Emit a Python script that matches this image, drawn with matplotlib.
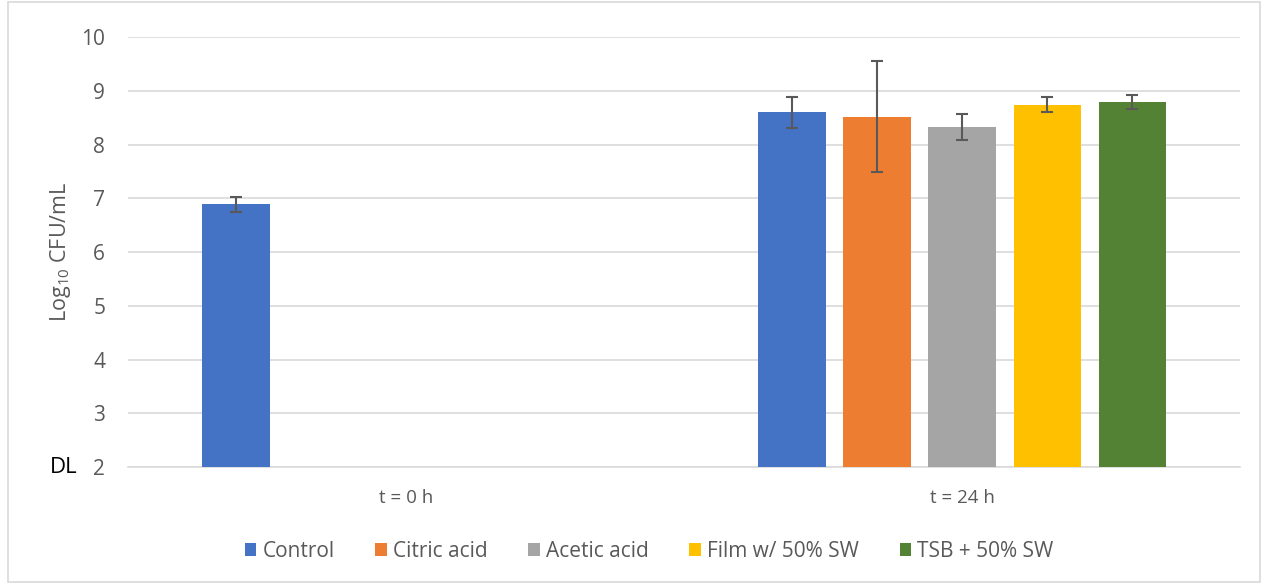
import numpy as np
import matplotlib
matplotlib.use("Agg")
import matplotlib.pyplot as plt
from matplotlib.patches import Rectangle

plt.rcParams['font.family'] = ['Open Sans', 'DejaVu Sans']
plt.rcParams['mathtext.fontset'] = 'custom'
plt.rcParams['mathtext.rm'] = 'Open Sans'
plt.rcParams['mathtext.it'] = 'Open Sans'

# Sampling times and treatments
categories = ["t = 0 h", "t = 24 h"]
series = ["Control", "Citric acid", "Acetic acid", "Film w/ 50% SW", "TSB + 50% SW"]
colors = ["#4472C4", "#ED7D31", "#A5A5A5", "#FFC000", "#548235"]

# Mean log10 CFU/mL and standard deviations (NaN = not measured)
means = {
    "Control":        [6.89, 8.60],
    "Citric acid":    [np.nan, 8.52],
    "Acetic acid":    [np.nan, 8.33],
    "Film w/ 50% SW": [np.nan, 8.74],
    "TSB + 50% SW":   [np.nan, 8.80],
}
errors = {
    "Control":        [0.14, 0.29],
    "Citric acid":    [np.nan, 1.03],
    "Acetic acid":    [np.nan, 0.24],
    "Film w/ 50% SW": [np.nan, 0.14],
    "TSB + 50% SW":   [np.nan, 0.13],
}
y_ticks = [2, 3, 4, 5, 6, 7, 8, 9, 10]
baseline = 2

fig = plt.figure(figsize=(12.68, 5.84), dpi=100)
ax = fig.add_axes([0.101, 0.2003, 0.877, 0.7363])

x = np.arange(len(categories))
spacing = 0.153
width = 0.121
offsets = (np.arange(len(series)) - (len(series) - 1) / 2) * spacing

for i, name in enumerate(series):
    vals = np.array(means[name], dtype=float)
    errs = np.array(errors[name], dtype=float)
    mask = ~np.isnan(vals)
    xs = x[mask] + offsets[i]
    ax.bar(xs, vals[mask] - baseline, bottom=baseline, width=width,
           color=colors[i], label=name, zorder=3)
    ax.errorbar(xs, vals[mask], yerr=errs[mask], fmt='none', ecolor='#595959',
                elinewidth=1.5, capsize=4.3, capthick=1.5, zorder=4)

ax.set_xlim(-0.5, 1.5)
ax.set_ylim(2, 10)
ax.set_yticks(y_ticks)
ax.set_xticks(x)
ax.set_xticklabels(categories)
ax.tick_params(axis='both', length=0, colors='#595959')
ax.tick_params(axis='y', labelsize=15, pad=16.5)
ax.tick_params(axis='x', labelsize=13.5, pad=16)
ax.grid(axis='y', color='#D9D9D9', linewidth=1.2, zorder=0)
ax.set_axisbelow(True)
for side in ['top', 'right', 'left']:
    ax.spines[side].set_visible(False)
ax.spines['bottom'].set_color('#D9D9D9')
ax.spines['bottom'].set_linewidth(1.2)

ax.set_ylabel(r'Log$_{10}$ CFU/mL', fontsize=15.5, color='#595959', labelpad=6)

# Detection limit marker next to the lowest tick
ax.text(-0.0705, 2, "DL", transform=ax.get_yaxis_transform(), fontsize=16,
        color='black', ha='left', va='center')

leg = fig.legend(loc='center', bbox_to_anchor=(0.512, 0.056), ncol=5, frameon=False,
                 fontsize=15, handlelength=0.55, handleheight=0.55, handletextpad=0.3,
                 columnspacing=1.95)
for t in leg.get_texts():
    t.set_color('#595959')

# Chart area border
fig.patches.append(Rectangle((0.006, 0.003), 0.988, 0.994, transform=fig.transFigure,
                             fill=False, edgecolor='#D9D9D9', linewidth=1.2))

fig.savefig("out.png", dpi=100)
